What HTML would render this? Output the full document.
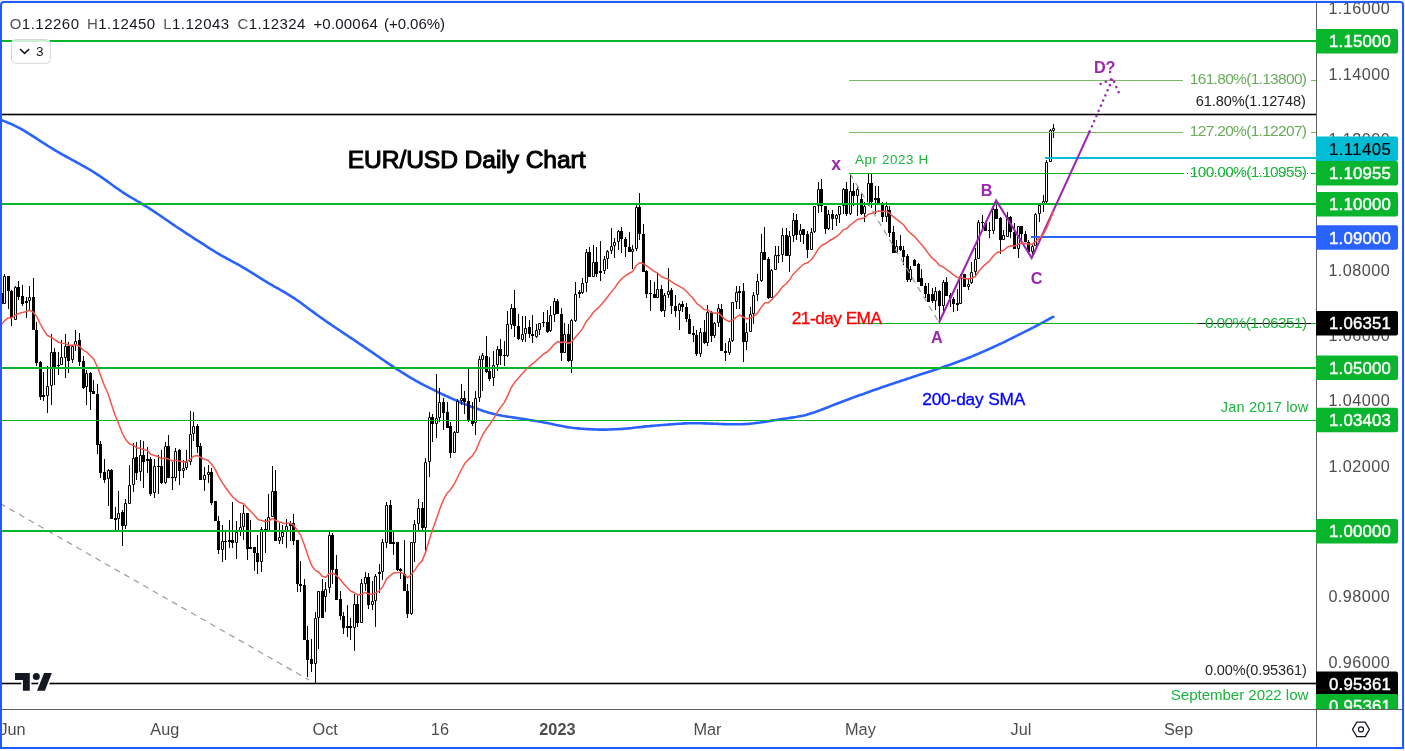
<!DOCTYPE html>
<html><head><meta charset="utf-8"><title>EUR/USD Daily Chart</title>
<style>
html,body{margin:0;padding:0;background:#fff;width:1405px;height:751px;overflow:hidden;}
#bgt{position:absolute;left:0;top:0;width:1405px;height:6px;background:#eceef2;}
#bgr{position:absolute;left:1400px;top:0;width:5px;height:751px;background:#f2f1ec;}
#frame{position:absolute;left:0;top:1px;width:1404px;height:748px;box-sizing:border-box;border:2px solid #1f5bff;border-radius:4px 4px 0 0;background:#fff;}
svg{position:absolute;left:0;top:0;will-change:transform;}
text{font-family:'Liberation Sans', sans-serif;}
</style></head><body>
<div id="bgt"></div><div id="bgr"></div><div id="frame"></div>
<svg width="1405" height="751" viewBox="0 0 1405 751"><defs><clipPath id="pc"><rect x="2" y="3" width="1314" height="706"/></clipPath></defs><g clip-path="url(#pc)"><path d="M0.0 119.5 L2.0 120.3 L4.0 121.1 L6.0 121.9 L8.0 122.7 L10.0 123.5 L12.0 124.4 L14.0 125.3 L16.0 126.3 L18.0 127.3 L20.0 128.4 L22.0 129.5 L24.0 130.6 L26.0 131.8 L28.0 133.1 L30.0 134.3 L32.0 135.6 L34.0 136.9 L36.0 138.2 L38.0 139.5 L40.0 140.9 L42.0 142.2 L44.0 143.4 L46.0 144.7 L48.0 146.0 L50.0 147.2 L52.0 148.4 L54.0 149.6 L56.0 150.8 L58.0 152.0 L60.0 153.1 L62.0 154.3 L64.0 155.4 L66.0 156.5 L68.0 157.6 L70.0 158.7 L72.0 159.8 L74.0 160.9 L76.0 162.0 L78.0 163.1 L80.0 164.2 L82.0 165.3 L84.0 166.4 L86.0 167.5 L88.0 168.7 L90.0 169.8 L92.0 171.0 L94.0 172.3 L96.0 173.6 L98.0 174.9 L100.0 176.2 L102.0 177.6 L104.0 179.0 L106.0 180.4 L108.0 181.9 L110.0 183.3 L112.0 184.8 L114.0 186.2 L116.0 187.6 L118.0 189.0 L120.0 190.4 L122.0 191.8 L124.0 193.1 L126.0 194.4 L128.0 195.6 L130.0 196.8 L132.0 198.0 L134.0 199.2 L136.0 200.3 L138.0 201.5 L140.0 202.7 L142.0 203.8 L144.0 205.1 L146.0 206.3 L148.0 207.5 L150.0 208.8 L152.0 210.1 L154.0 211.5 L156.0 212.8 L158.0 214.2 L160.0 215.5 L162.0 216.9 L164.0 218.3 L166.0 219.7 L168.0 221.0 L170.0 222.4 L172.0 223.8 L174.0 225.1 L176.0 226.5 L178.0 227.8 L180.0 229.1 L182.0 230.4 L184.0 231.8 L186.0 233.1 L188.0 234.4 L190.0 235.7 L192.0 237.0 L194.0 238.3 L196.0 239.6 L198.0 240.9 L200.0 242.1 L202.0 243.4 L204.0 244.7 L206.0 246.0 L208.0 247.3 L210.0 248.6 L212.0 249.8 L214.0 251.0 L216.0 252.3 L218.0 253.5 L220.0 254.6 L222.0 255.8 L224.0 256.9 L226.0 258.0 L228.0 259.1 L230.0 260.2 L232.0 261.3 L234.0 262.4 L236.0 263.4 L238.0 264.5 L240.0 265.7 L242.0 266.8 L244.0 268.0 L246.0 269.1 L248.0 270.4 L250.0 271.6 L252.0 272.8 L254.0 274.1 L256.0 275.3 L258.0 276.6 L260.0 277.9 L262.0 279.1 L264.0 280.4 L266.0 281.6 L268.0 282.8 L270.0 284.0 L272.0 285.1 L274.0 286.3 L276.0 287.4 L278.0 288.5 L280.0 289.7 L282.0 290.8 L284.0 291.9 L286.0 293.1 L288.0 294.3 L290.0 295.6 L292.0 296.8 L294.0 298.1 L296.0 299.5 L298.0 300.9 L300.0 302.3 L302.0 303.7 L304.0 305.2 L306.0 306.7 L308.0 308.2 L310.0 309.7 L312.0 311.1 L314.0 312.6 L316.0 314.1 L318.0 315.5 L320.0 317.0 L322.0 318.4 L324.0 319.8 L326.0 321.2 L328.0 322.6 L330.0 323.9 L332.0 325.3 L334.0 326.7 L336.0 328.0 L338.0 329.3 L340.0 330.7 L342.0 332.0 L344.0 333.4 L346.0 334.7 L348.0 336.0 L350.0 337.4 L352.0 338.7 L354.0 340.0 L356.0 341.4 L358.0 342.7 L360.0 344.1 L362.0 345.4 L364.0 346.8 L366.0 348.1 L368.0 349.5 L370.0 350.9 L372.0 352.2 L374.0 353.6 L376.0 355.0 L378.0 356.4 L380.0 357.8 L382.0 359.1 L384.0 360.5 L386.0 361.9 L388.0 363.2 L390.0 364.6 L392.0 365.9 L394.0 367.3 L396.0 368.6 L398.0 369.9 L400.0 371.1 L402.0 372.4 L404.0 373.6 L406.0 374.9 L408.0 376.1 L410.0 377.3 L412.0 378.5 L414.0 379.6 L416.0 380.8 L418.0 381.9 L420.0 383.0 L422.0 384.1 L424.0 385.2 L426.0 386.2 L428.0 387.2 L430.0 388.2 L432.0 389.2 L434.0 390.2 L436.0 391.2 L438.0 392.2 L440.0 393.1 L442.0 394.1 L444.0 395.0 L446.0 395.9 L448.0 396.8 L450.0 397.7 L452.0 398.6 L454.0 399.5 L456.0 400.4 L458.0 401.3 L460.0 402.2 L462.0 403.0 L464.0 403.8 L466.0 404.6 L468.0 405.4 L470.0 406.2 L472.0 407.0 L474.0 407.7 L476.0 408.4 L478.0 409.1 L480.0 409.8 L482.0 410.5 L484.0 411.2 L486.0 411.8 L488.0 412.4 L490.0 413.0 L492.0 413.5 L494.0 414.0 L496.0 414.5 L498.0 414.9 L500.0 415.3 L502.0 415.7 L504.0 416.0 L506.0 416.4 L508.0 416.7 L510.0 417.0 L512.0 417.3 L514.0 417.6 L516.0 417.9 L518.0 418.2 L520.0 418.5 L522.0 418.8 L524.0 419.1 L526.0 419.4 L528.0 419.7 L530.0 420.1 L532.0 420.4 L534.0 420.7 L536.0 421.0 L538.0 421.3 L540.0 421.7 L542.0 422.0 L544.0 422.4 L546.0 422.8 L548.0 423.2 L550.0 423.6 L552.0 424.0 L554.0 424.4 L556.0 424.9 L558.0 425.3 L560.0 425.7 L562.0 426.1 L564.0 426.5 L566.0 426.9 L568.0 427.2 L570.0 427.5 L572.0 427.8 L574.0 428.0 L576.0 428.2 L578.0 428.4 L580.0 428.6 L582.0 428.7 L584.0 428.9 L586.0 429.0 L588.0 429.1 L590.0 429.3 L592.0 429.4 L594.0 429.4 L596.0 429.5 L598.0 429.6 L600.0 429.6 L602.0 429.6 L604.0 429.6 L606.0 429.6 L608.0 429.5 L610.0 429.5 L612.0 429.4 L614.0 429.3 L616.0 429.2 L618.0 429.1 L620.0 429.0 L622.0 428.9 L624.0 428.7 L626.0 428.5 L628.0 428.4 L630.0 428.2 L632.0 428.0 L634.0 427.7 L636.0 427.5 L638.0 427.3 L640.0 427.1 L642.0 426.9 L644.0 426.6 L646.0 426.4 L648.0 426.2 L650.0 426.1 L652.0 425.9 L654.0 425.7 L656.0 425.5 L658.0 425.4 L660.0 425.2 L662.0 425.0 L664.0 424.9 L666.0 424.7 L668.0 424.6 L670.0 424.4 L672.0 424.3 L674.0 424.1 L676.0 424.0 L678.0 423.8 L680.0 423.7 L682.0 423.6 L684.0 423.4 L686.0 423.4 L688.0 423.3 L690.0 423.2 L692.0 423.2 L694.0 423.2 L696.0 423.2 L698.0 423.2 L700.0 423.3 L702.0 423.3 L704.0 423.4 L706.0 423.4 L708.0 423.5 L710.0 423.6 L712.0 423.6 L714.0 423.7 L716.0 423.8 L718.0 423.9 L720.0 424.0 L722.0 424.0 L724.0 424.1 L726.0 424.2 L728.0 424.2 L730.0 424.3 L732.0 424.3 L734.0 424.3 L736.0 424.3 L738.0 424.3 L740.0 424.3 L742.0 424.2 L744.0 424.1 L746.0 424.0 L748.0 423.9 L750.0 423.7 L752.0 423.5 L754.0 423.3 L756.0 423.0 L758.0 422.7 L760.0 422.5 L762.0 422.2 L764.0 421.9 L766.0 421.6 L768.0 421.3 L770.0 420.9 L772.0 420.6 L774.0 420.3 L776.0 420.0 L778.0 419.7 L780.0 419.4 L782.0 419.1 L784.0 418.8 L786.0 418.5 L788.0 418.2 L790.0 417.9 L792.0 417.6 L794.0 417.3 L796.0 417.0 L798.0 416.6 L800.0 416.2 L802.0 415.8 L804.0 415.4 L806.0 414.9 L808.0 414.3 L810.0 413.7 L812.0 413.1 L814.0 412.5 L816.0 411.8 L818.0 411.0 L820.0 410.3 L822.0 409.5 L824.0 408.7 L826.0 408.0 L828.0 407.2 L830.0 406.4 L832.0 405.6 L834.0 404.8 L836.0 404.0 L838.0 403.2 L840.0 402.5 L842.0 401.7 L844.0 401.0 L846.0 400.2 L848.0 399.5 L850.0 398.7 L852.0 398.0 L854.0 397.3 L856.0 396.5 L858.0 395.8 L860.0 395.1 L862.0 394.4 L864.0 393.7 L866.0 392.9 L868.0 392.2 L870.0 391.5 L872.0 390.8 L874.0 390.1 L876.0 389.4 L878.0 388.7 L880.0 388.0 L882.0 387.3 L884.0 386.6 L886.0 385.9 L888.0 385.2 L890.0 384.6 L892.0 383.9 L894.0 383.2 L896.0 382.5 L898.0 381.9 L900.0 381.2 L902.0 380.5 L904.0 379.9 L906.0 379.2 L908.0 378.5 L910.0 377.9 L912.0 377.2 L914.0 376.5 L916.0 375.9 L918.0 375.3 L920.0 374.6 L922.0 374.0 L924.0 373.3 L926.0 372.7 L928.0 372.1 L930.0 371.4 L932.0 370.8 L934.0 370.1 L936.0 369.5 L938.0 368.8 L940.0 368.2 L942.0 367.5 L944.0 366.8 L946.0 366.1 L948.0 365.4 L950.0 364.7 L952.0 364.0 L954.0 363.2 L956.0 362.5 L958.0 361.8 L960.0 361.0 L962.0 360.3 L964.0 359.5 L966.0 358.8 L968.0 358.0 L970.0 357.2 L972.0 356.4 L974.0 355.5 L976.0 354.7 L978.0 353.9 L980.0 353.0 L982.0 352.1 L984.0 351.3 L986.0 350.4 L988.0 349.5 L990.0 348.6 L992.0 347.7 L994.0 346.8 L996.0 345.9 L998.0 344.9 L1000.0 344.0 L1002.0 343.1 L1004.0 342.1 L1006.0 341.2 L1008.0 340.2 L1010.0 339.2 L1012.0 338.2 L1014.0 337.2 L1016.0 336.2 L1018.0 335.2 L1020.0 334.2 L1022.0 333.2 L1024.0 332.2 L1026.0 331.2 L1028.0 330.2 L1030.0 329.2 L1032.0 328.1 L1034.0 327.1 L1036.0 326.0 L1038.0 325.0 L1040.0 323.9 L1042.0 322.8 L1044.0 321.8 L1046.0 320.7 L1048.0 319.6 L1050.0 318.5 L1052.0 317.4 L1053.3 316.9" stroke="#2962ff" stroke-width="2.6" fill="none" stroke-linejoin="round" stroke-linecap="round"/><path d="M1 290h1v3h-1zM1 304h1v2h-1zM8 291h1v18h-1zM11 290h1v1h-1zM11 318h1v8h-1zM18 281h1v6h-1zM18 297h1v3h-1zM22 285h1v11h-1zM22 304h1v2h-1zM26 297h1v4h-1zM26 303h1v15h-1zM33 278h1v19h-1zM36 322h1v8h-1zM36 363h1v3h-1zM40 361h1v1h-1zM40 397h1v3h-1zM43 372h1v23h-1zM43 397h1v4h-1zM54 348h1v4h-1zM54 367h1v18h-1zM58 352h1v13h-1zM58 366h1v9h-1zM68 342h1v4h-1zM68 361h1v12h-1zM79 333h1v7h-1zM79 362h1v4h-1zM83 356h1v5h-1zM83 388h1v1h-1zM90 372h1v1h-1zM90 392h1v18h-1zM93 380h1v11h-1zM97 384h1v10h-1zM97 445h1v9h-1zM100 441h1v3h-1zM100 473h1v5h-1zM104 459h1v13h-1zM104 480h1v3h-1zM111 469h1v1h-1zM115 507h1v11h-1zM115 520h1v10h-1zM122 510h1v2h-1zM122 526h1v20h-1zM136 442h1v15h-1zM136 473h1v7h-1zM143 441h1v14h-1zM143 462h1v26h-1zM147 447h1v12h-1zM147 461h1v12h-1zM150 457h1v2h-1zM150 494h1v2h-1zM158 455h1v11h-1zM158 467h1v27h-1zM161 450h1v16h-1zM161 483h1v1h-1zM168 435h1v11h-1zM172 462h1v15h-1zM172 478h1v12h-1zM179 449h1v1h-1zM179 471h1v14h-1zM197 424h1v2h-1zM197 447h1v6h-1zM200 443h1v3h-1zM211 468h1v4h-1zM211 503h1v2h-1zM218 516h1v5h-1zM218 550h1v4h-1zM225 531h1v10h-1zM225 542h1v18h-1zM229 520h1v20h-1zM229 542h1v6h-1zM232 502h1v38h-1zM232 543h1v5h-1zM247 549h1v11h-1zM250 520h1v27h-1zM254 553h1v18h-1zM257 535h1v18h-1zM257 562h1v12h-1zM265 519h1v10h-1zM265 532h1v21h-1zM275 470h1v21h-1zM290 521h1v3h-1zM290 526h1v15h-1zM293 514h1v9h-1zM293 541h1v4h-1zM297 584h1v8h-1zM300 561h1v23h-1zM300 586h1v6h-1zM304 579h1v6h-1zM307 626h1v14h-1zM307 660h1v17h-1zM311 639h1v20h-1zM311 664h1v8h-1zM322 579h1v12h-1zM332 533h1v2h-1zM332 570h1v14h-1zM336 555h1v14h-1zM340 591h1v8h-1zM340 616h1v4h-1zM343 612h1v4h-1zM343 628h1v6h-1zM347 605h1v21h-1zM347 628h1v9h-1zM350 618h1v8h-1zM350 628h1v12h-1zM357 594h1v10h-1zM357 623h1v4h-1zM368 573h1v4h-1zM368 605h1v4h-1zM379 564h1v8h-1zM379 574h1v19h-1zM390 500h1v5h-1zM393 532h1v10h-1zM393 544h1v11h-1zM397 570h1v1h-1zM400 568h1v1h-1zM400 571h1v8h-1zM404 540h1v34h-1zM407 584h1v7h-1zM407 614h1v4h-1zM422 502h1v6h-1zM422 528h1v4h-1zM432 414h1v3h-1zM432 424h1v18h-1zM443 398h1v4h-1zM443 413h1v17h-1zM447 402h1v10h-1zM450 422h1v4h-1zM450 453h1v5h-1zM464 391h1v7h-1zM464 402h1v12h-1zM468 368h1v33h-1zM468 420h1v2h-1zM472 402h1v18h-1zM472 424h1v2h-1zM486 336h1v20h-1zM486 372h1v1h-1zM489 357h1v14h-1zM489 379h1v2h-1zM500 339h1v10h-1zM500 356h1v9h-1zM504 341h1v14h-1zM504 356h1v10h-1zM514 290h1v18h-1zM514 326h1v11h-1zM518 314h1v12h-1zM518 339h1v1h-1zM529 320h1v7h-1zM529 334h1v4h-1zM532 315h1v19h-1zM532 336h1v7h-1zM543 312h1v10h-1zM543 323h1v4h-1zM547 310h1v12h-1zM547 332h1v1h-1zM557 299h1v2h-1zM561 308h1v6h-1zM561 353h1v8h-1zM568 324h1v10h-1zM568 361h1v1h-1zM579 290h1v2h-1zM579 294h1v4h-1zM589 247h1v5h-1zM596 247h1v15h-1zM596 274h1v3h-1zM600 241h1v30h-1zM600 273h1v8h-1zM621 227h1v4h-1zM621 239h1v14h-1zM625 237h1v2h-1zM625 247h1v10h-1zM629 232h1v15h-1zM639 193h1v14h-1zM639 234h1v6h-1zM643 224h1v10h-1zM646 270h1v1h-1zM646 294h1v4h-1zM650 280h1v13h-1zM650 294h1v17h-1zM654 282h1v12h-1zM661 285h1v4h-1zM661 311h1v1h-1zM671 288h1v2h-1zM671 306h1v8h-1zM675 295h1v11h-1zM675 311h1v6h-1zM682 301h1v3h-1zM682 307h1v5h-1zM686 303h1v4h-1zM686 319h1v3h-1zM689 314h1v5h-1zM693 326h1v7h-1zM693 335h1v7h-1zM696 330h1v5h-1zM696 354h1v2h-1zM704 320h1v12h-1zM704 343h1v1h-1zM711 311h1v1h-1zM711 336h1v6h-1zM721 304h1v5h-1zM725 343h1v8h-1zM725 353h1v8h-1zM739 286h1v5h-1zM739 293h1v16h-1zM743 283h1v8h-1zM743 342h1v20h-1zM764 227h1v25h-1zM768 257h1v2h-1zM768 298h1v1h-1zM778 246h1v9h-1zM778 256h1v7h-1zM786 228h1v7h-1zM796 214h1v6h-1zM796 235h1v5h-1zM803 235h1v9h-1zM807 231h1v3h-1zM807 250h1v8h-1zM821 179h1v10h-1zM821 206h1v6h-1zM825 229h1v5h-1zM832 210h1v4h-1zM832 219h1v11h-1zM846 182h1v7h-1zM846 214h1v2h-1zM853 183h1v8h-1zM853 196h1v10h-1zM861 194h1v5h-1zM861 214h1v1h-1zM871 174h1v9h-1zM871 202h1v6h-1zM875 186h1v12h-1zM875 200h1v14h-1zM878 186h1v12h-1zM882 202h1v1h-1zM882 217h1v5h-1zM889 206h1v4h-1zM889 233h1v4h-1zM893 226h1v6h-1zM900 235h1v11h-1zM900 250h1v1h-1zM903 246h1v4h-1zM903 257h1v8h-1zM907 254h1v2h-1zM907 280h1v2h-1zM914 259h1v1h-1zM918 263h1v1h-1zM921 269h1v9h-1zM925 283h1v3h-1zM925 294h1v4h-1zM928 283h1v11h-1zM932 288h1v6h-1zM932 301h1v2h-1zM939 290h1v1h-1zM939 306h1v17h-1zM946 277h1v5h-1zM950 293h1v2h-1zM950 298h1v9h-1zM953 297h1v2h-1zM953 304h1v8h-1zM957 289h1v14h-1zM957 305h1v6h-1zM982 215h1v7h-1zM982 223h1v6h-1zM985 222h1v1h-1zM989 222h1v8h-1zM989 231h1v7h-1zM996 200h1v9h-1zM1000 217h1v1h-1zM1000 240h1v14h-1zM1010 216h1v1h-1zM1010 232h1v6h-1zM1014 223h1v9h-1zM1021 234h1v6h-1zM1025 231h1v3h-1zM1028 240h1v2h-1zM1028 252h1v2h-1zM4 274h1v2h-1zM15 286h1v1h-1zM29 286h1v11h-1zM29 301h1v10h-1zM47 366h1v20h-1zM47 396h1v17h-1zM51 334h1v18h-1zM51 386h1v19h-1zM61 340h1v17h-1zM65 334h1v12h-1zM65 358h1v20h-1zM72 345h1v1h-1zM72 360h1v3h-1zM75 330h1v11h-1zM75 345h1v6h-1zM86 370h1v3h-1zM86 387h1v18h-1zM108 469h1v1h-1zM108 479h1v27h-1zM118 491h1v22h-1zM118 519h1v12h-1zM125 499h1v4h-1zM125 526h1v3h-1zM129 465h1v20h-1zM133 443h1v15h-1zM133 485h1v7h-1zM140 440h1v15h-1zM140 472h1v9h-1zM154 459h1v7h-1zM154 493h1v5h-1zM165 442h1v4h-1zM165 483h1v1h-1zM175 448h1v3h-1zM175 478h1v3h-1zM183 460h1v8h-1zM183 471h1v7h-1zM186 450h1v12h-1zM186 468h1v2h-1zM190 411h1v23h-1zM190 462h1v3h-1zM193 412h1v14h-1zM193 434h1v7h-1zM204 467h1v8h-1zM204 480h1v11h-1zM208 465h1v7h-1zM208 475h1v8h-1zM222 525h1v16h-1zM222 550h1v12h-1zM236 521h1v11h-1zM236 543h1v16h-1zM240 513h1v14h-1zM240 531h1v5h-1zM243 505h1v8h-1zM243 527h1v13h-1zM261 527h1v2h-1zM261 562h1v10h-1zM268 494h1v23h-1zM272 466h1v25h-1zM279 523h1v14h-1zM279 541h1v3h-1zM282 525h1v7h-1zM282 537h1v7h-1zM286 519h1v7h-1zM286 532h1v16h-1zM315 612h1v6h-1zM315 664h1v20h-1zM318 618h1v31h-1zM325 582h1v7h-1zM325 597h1v15h-1zM329 531h1v4h-1zM329 588h1v5h-1zM354 594h1v10h-1zM354 628h1v23h-1zM361 579h1v4h-1zM365 572h1v5h-1zM365 584h1v7h-1zM372 581h1v20h-1zM372 605h1v5h-1zM375 574h1v2h-1zM375 601h1v26h-1zM382 539h1v3h-1zM382 572h1v8h-1zM386 502h1v3h-1zM386 543h1v5h-1zM411 614h1v1h-1zM414 520h1v4h-1zM414 543h1v19h-1zM418 499h1v9h-1zM418 524h1v8h-1zM425 458h1v4h-1zM425 528h1v24h-1zM429 412h1v5h-1zM429 462h1v15h-1zM436 374h1v44h-1zM436 424h1v14h-1zM439 388h1v14h-1zM439 418h1v4h-1zM454 431h1v1h-1zM457 399h1v2h-1zM461 384h1v14h-1zM461 401h1v4h-1zM475 391h1v7h-1zM475 423h1v12h-1zM479 356h1v3h-1zM479 398h1v4h-1zM482 353h1v2h-1zM482 360h1v31h-1zM493 351h1v14h-1zM493 378h1v8h-1zM497 346h1v3h-1zM497 365h1v6h-1zM507 311h1v13h-1zM507 356h1v1h-1zM511 304h1v4h-1zM511 325h1v4h-1zM522 316h1v18h-1zM522 340h1v2h-1zM525 316h1v12h-1zM525 334h1v8h-1zM536 324h1v6h-1zM536 337h1v1h-1zM539 330h1v5h-1zM550 306h1v9h-1zM550 331h1v1h-1zM554 298h1v3h-1zM554 315h1v7h-1zM564 323h1v11h-1zM571 319h1v1h-1zM571 361h1v12h-1zM575 282h1v12h-1zM575 321h1v1h-1zM582 278h1v5h-1zM582 293h1v1h-1zM586 249h1v3h-1zM586 283h1v9h-1zM593 245h1v17h-1zM604 256h1v3h-1zM604 271h1v3h-1zM607 250h1v1h-1zM607 259h1v10h-1zM611 228h1v18h-1zM611 251h1v3h-1zM614 238h1v4h-1zM614 246h1v12h-1zM618 230h1v1h-1zM618 242h1v8h-1zM632 245h1v4h-1zM632 252h1v17h-1zM636 205h1v2h-1zM636 249h1v2h-1zM657 273h1v16h-1zM664 293h1v2h-1zM664 311h1v6h-1zM668 268h1v23h-1zM668 295h1v3h-1zM679 303h1v1h-1zM679 311h1v19h-1zM700 328h1v4h-1zM700 354h1v3h-1zM707 305h1v7h-1zM707 343h1v3h-1zM714 322h1v1h-1zM714 336h1v2h-1zM718 304h1v4h-1zM718 323h1v4h-1zM729 338h1v3h-1zM729 353h1v2h-1zM732 341h1v1h-1zM736 286h1v6h-1zM736 302h1v7h-1zM746 323h1v9h-1zM746 342h1v8h-1zM750 307h1v7h-1zM753 292h1v3h-1zM753 314h1v10h-1zM757 274h1v7h-1zM757 295h1v6h-1zM761 234h1v18h-1zM761 281h1v1h-1zM771 269h1v1h-1zM775 246h1v9h-1zM782 228h1v7h-1zM782 255h1v7h-1zM789 231h1v5h-1zM789 256h1v16h-1zM793 213h1v7h-1zM793 236h1v6h-1zM800 224h1v6h-1zM800 235h1v7h-1zM811 228h1v4h-1zM814 232h1v1h-1zM818 182h1v7h-1zM818 206h1v7h-1zM828 210h1v4h-1zM828 229h1v1h-1zM836 214h1v1h-1zM836 219h1v7h-1zM839 215h1v8h-1zM843 188h1v1h-1zM843 206h1v8h-1zM850 174h1v17h-1zM850 214h1v1h-1zM857 187h1v2h-1zM857 196h1v20h-1zM864 202h1v4h-1zM864 214h1v8h-1zM868 174h1v9h-1zM868 205h1v1h-1zM886 202h1v4h-1zM886 217h1v5h-1zM896 240h1v6h-1zM910 266h1v3h-1zM910 280h1v2h-1zM935 287h1v4h-1zM935 301h1v9h-1zM943 280h1v2h-1zM943 306h1v6h-1zM960 274h1v2h-1zM968 278h1v6h-1zM968 287h1v3h-1zM971 262h1v10h-1zM971 283h1v1h-1zM975 248h1v11h-1zM975 272h1v5h-1zM978 220h1v2h-1zM993 204h1v5h-1zM993 231h1v3h-1zM1003 230h1v5h-1zM1007 212h1v5h-1zM1018 249h1v9h-1zM1032 245h1v1h-1zM1032 252h1v6h-1zM1035 213h1v1h-1zM1039 204h1v1h-1zM1039 214h1v8h-1zM1043 195h1v6h-1zM1043 205h1v7h-1zM1046 160h1v2h-1zM1046 202h1v1h-1zM1050 129h1v1h-1zM1053 124h1v4h-1zM1053 131h1v7h-1zM0 293h3v11h-3zM7 276h3v15h-3zM10 291h3v27h-3zM17 287h3v10h-3zM21 296h3v8h-3zM25 301h3v2h-3zM32 297h3v33h-3zM35 330h3v33h-3zM39 362h3v35h-3zM42 395h3v2h-3zM53 352h3v15h-3zM57 365h3v1h-3zM67 346h3v15h-3zM78 340h3v22h-3zM82 361h3v27h-3zM89 373h3v19h-3zM92 391h3v3h-3zM96 394h3v51h-3zM99 444h3v29h-3zM103 472h3v8h-3zM110 470h3v49h-3zM114 518h3v2h-3zM121 512h3v14h-3zM135 457h3v16h-3zM142 455h3v7h-3zM146 459h3v2h-3zM149 459h3v35h-3zM157 466h3v1h-3zM160 466h3v17h-3zM167 446h3v32h-3zM171 477h3v1h-3zM178 450h3v21h-3zM196 426h3v21h-3zM199 446h3v34h-3zM210 472h3v31h-3zM214 501h3v20h-3zM217 521h3v29h-3zM224 541h3v1h-3zM228 540h3v2h-3zM231 540h3v3h-3zM246 513h3v36h-3zM249 547h3v2h-3zM253 547h3v6h-3zM256 553h3v9h-3zM264 529h3v3h-3zM274 491h3v50h-3zM289 524h3v2h-3zM292 523h3v18h-3zM296 540h3v44h-3zM299 584h3v2h-3zM303 585h3v55h-3zM306 640h3v20h-3zM310 659h3v5h-3zM321 591h3v27h-3zM331 535h3v35h-3zM335 569h3v31h-3zM339 599h3v17h-3zM342 616h3v12h-3zM346 626h3v2h-3zM349 626h3v2h-3zM356 604h3v19h-3zM367 577h3v28h-3zM378 572h3v2h-3zM389 505h3v39h-3zM392 542h3v2h-3zM396 542h3v28h-3zM399 569h3v2h-3zM403 574h3v17h-3zM406 591h3v23h-3zM421 508h3v20h-3zM431 417h3v7h-3zM442 402h3v11h-3zM446 412h3v16h-3zM449 426h3v27h-3zM463 398h3v4h-3zM467 401h3v19h-3zM471 420h3v4h-3zM485 356h3v16h-3zM488 371h3v8h-3zM499 349h3v7h-3zM503 355h3v1h-3zM513 308h3v18h-3zM517 326h3v13h-3zM528 327h3v7h-3zM531 334h3v2h-3zM542 322h3v1h-3zM546 322h3v10h-3zM556 301h3v13h-3zM560 314h3v39h-3zM567 334h3v27h-3zM578 292h3v2h-3zM588 252h3v25h-3zM595 262h3v12h-3zM599 271h3v2h-3zM620 231h3v8h-3zM624 239h3v8h-3zM628 247h3v5h-3zM638 207h3v27h-3zM642 234h3v38h-3zM645 271h3v23h-3zM649 293h3v1h-3zM653 294h3v4h-3zM660 289h3v22h-3zM670 290h3v16h-3zM674 306h3v5h-3zM681 304h3v3h-3zM685 307h3v12h-3zM688 319h3v15h-3zM692 333h3v2h-3zM695 335h3v19h-3zM703 332h3v11h-3zM710 312h3v24h-3zM720 309h3v42h-3zM724 351h3v2h-3zM738 291h3v2h-3zM742 291h3v51h-3zM763 252h3v8h-3zM767 259h3v39h-3zM777 255h3v1h-3zM785 235h3v21h-3zM795 220h3v15h-3zM802 229h3v6h-3zM806 234h3v16h-3zM820 189h3v17h-3zM824 206h3v23h-3zM831 214h3v5h-3zM845 189h3v25h-3zM852 191h3v5h-3zM860 199h3v15h-3zM870 183h3v19h-3zM874 198h3v2h-3zM877 198h3v5h-3zM881 203h3v14h-3zM888 210h3v23h-3zM892 232h3v21h-3zM899 246h3v4h-3zM902 250h3v7h-3zM906 256h3v24h-3zM913 260h3v6h-3zM917 264h3v18h-3zM920 278h3v8h-3zM924 286h3v8h-3zM927 294h3v8h-3zM931 294h3v7h-3zM938 291h3v15h-3zM945 282h3v14h-3zM949 295h3v3h-3zM952 299h3v5h-3zM956 303h3v2h-3zM963 274h3v13h-3zM981 222h3v1h-3zM984 223h3v8h-3zM988 230h3v1h-3zM995 209h3v10h-3zM999 218h3v22h-3zM1009 217h3v15h-3zM1013 232h3v17h-3zM1020 226h3v8h-3zM1024 234h3v8h-3zM1027 242h3v10h-3z" fill="#000"/><path d="M3.5 276.5h2v27h-2zM14.5 287.5h2v32h-2zM28.5 297.5h2v3h-2zM46.5 386.5h2v9h-2zM50.5 352.5h2v33h-2zM60.5 357.5h2v7h-2zM64.5 346.5h2v11h-2zM71.5 346.5h2v13h-2zM74.5 341.5h2v3h-2zM85.5 373.5h2v13h-2zM107.5 470.5h2v8h-2zM117.5 513.5h2v5h-2zM124.5 503.5h2v22h-2zM128.5 485.5h2v18h-2zM132.5 458.5h2v26h-2zM139.5 455.5h2v16h-2zM153.5 466.5h2v26h-2zM164.5 446.5h2v36h-2zM174.5 451.5h2v26h-2zM182.5 468.5h2v2h-2zM185.5 462.5h2v5h-2zM189.5 434.5h2v27h-2zM192.5 426.5h2v7h-2zM203.5 475.5h2v4h-2zM207.5 472.5h2v2h-2zM221.5 541.5h2v8h-2zM235.5 532.5h2v10h-2zM239.5 527.5h2v3h-2zM242.5 513.5h2v13h-2zM260.5 529.5h2v32h-2zM267.5 517.5h2v14h-2zM271.5 491.5h2v25h-2zM278.5 537.5h2v3h-2zM281.5 532.5h2v4h-2zM285.5 526.5h2v5h-2zM314.5 618.5h2v45h-2zM317.5 591.5h2v26h-2zM324.5 589.5h2v7h-2zM328.5 535.5h2v52h-2zM353.5 604.5h2v23h-2zM360.5 583.5h2v39h-2zM364.5 577.5h2v6h-2zM371.5 601.5h2v3h-2zM374.5 576.5h2v24h-2zM381.5 542.5h2v29h-2zM385.5 505.5h2v37h-2zM410.5 542.5h2v71h-2zM413.5 524.5h2v18h-2zM417.5 508.5h2v15h-2zM424.5 462.5h2v65h-2zM428.5 417.5h2v44h-2zM435.5 418.5h2v5h-2zM438.5 402.5h2v15h-2zM453.5 432.5h2v20h-2zM456.5 401.5h2v31h-2zM460.5 398.5h2v2h-2zM474.5 398.5h2v24h-2zM478.5 359.5h2v38h-2zM481.5 355.5h2v4h-2zM492.5 365.5h2v12h-2zM496.5 349.5h2v15h-2zM506.5 324.5h2v31h-2zM510.5 308.5h2v16h-2zM521.5 334.5h2v5h-2zM524.5 328.5h2v5h-2zM535.5 330.5h2v6h-2zM538.5 323.5h2v6h-2zM549.5 315.5h2v15h-2zM553.5 301.5h2v13h-2zM563.5 334.5h2v18h-2zM570.5 320.5h2v40h-2zM574.5 294.5h2v26h-2zM581.5 283.5h2v9h-2zM585.5 252.5h2v30h-2zM592.5 262.5h2v14h-2zM603.5 259.5h2v11h-2zM606.5 251.5h2v7h-2zM610.5 246.5h2v4h-2zM613.5 242.5h2v3h-2zM617.5 231.5h2v10h-2zM631.5 249.5h2v2h-2zM635.5 207.5h2v41h-2zM656.5 289.5h2v8h-2zM663.5 295.5h2v15h-2zM667.5 291.5h2v3h-2zM678.5 304.5h2v6h-2zM699.5 332.5h2v21h-2zM706.5 312.5h2v30h-2zM713.5 323.5h2v12h-2zM717.5 308.5h2v14h-2zM728.5 341.5h2v11h-2zM731.5 302.5h2v38h-2zM735.5 292.5h2v9h-2zM745.5 332.5h2v9h-2zM749.5 314.5h2v17h-2zM752.5 295.5h2v18h-2zM756.5 281.5h2v13h-2zM760.5 252.5h2v28h-2zM770.5 270.5h2v27h-2zM774.5 255.5h2v14h-2zM781.5 235.5h2v19h-2zM788.5 236.5h2v19h-2zM792.5 220.5h2v15h-2zM799.5 230.5h2v4h-2zM810.5 232.5h2v17h-2zM813.5 206.5h2v25h-2zM817.5 189.5h2v16h-2zM827.5 214.5h2v14h-2zM835.5 215.5h2v3h-2zM838.5 206.5h2v8h-2zM842.5 189.5h2v16h-2zM849.5 191.5h2v22h-2zM856.5 189.5h2v6h-2zM863.5 206.5h2v7h-2zM867.5 183.5h2v21h-2zM885.5 206.5h2v10h-2zM895.5 246.5h2v6h-2zM909.5 269.5h2v10h-2zM934.5 291.5h2v9h-2zM942.5 282.5h2v23h-2zM959.5 276.5h2v27h-2zM967.5 284.5h2v2h-2zM970.5 272.5h2v10h-2zM974.5 259.5h2v12h-2zM977.5 222.5h2v36h-2zM992.5 209.5h2v21h-2zM1002.5 235.5h2v4h-2zM1006.5 217.5h2v19h-2zM1017.5 226.5h2v22h-2zM1031.5 246.5h2v5h-2zM1034.5 214.5h2v31h-2zM1038.5 205.5h2v8h-2zM1042.5 201.5h2v3h-2zM1045.5 162.5h2v39h-2zM1049.5 130.5h2v31h-2zM1052.5 128.5h2v2h-2z" fill="#fff" stroke="#000" stroke-width="1"/><path d="M0 503.4 L309 680" stroke="#9b9b9b" stroke-width="1.2" stroke-dasharray="6 5" fill="none"/><path d="M850 173.5 L939 322.5" stroke="#9b9b9b" stroke-width="1.2" stroke-dasharray="6 5" fill="none"/><rect x="2" y="40" width="1314" height="2" fill="#09b52d" /><rect x="849" y="80" width="334" height="1" fill="#7ab866" /><rect x="1311" y="80" width="5" height="1" fill="#7ab866" /><rect x="2" y="113.7" width="1314" height="1.6" fill="#000" /><rect x="849" y="132" width="334" height="1" fill="#7ab866" /><rect x="1311" y="132" width="5" height="1" fill="#7ab866" /><rect x="849" y="173" width="334" height="1" fill="#09b52d" /><path d="M1183 173.5 H1311" stroke="#2a8a3a" stroke-width="1" stroke-dasharray="1 3" fill="none"/><rect x="1311" y="173" width="5" height="1" fill="#09b52d" /><rect x="2" y="203" width="1314" height="2" fill="#09b52d" /><rect x="849" y="323" width="349" height="1" fill="#09b52d" /><rect x="1198" y="323" width="113" height="1" fill="#000" /><rect x="1311" y="323" width="5" height="1" fill="#09b52d" /><rect x="2" y="367" width="1314" height="2" fill="#09b52d" /><rect x="2" y="420" width="1314" height="1" fill="#09b52d" /><rect x="2" y="530" width="1314" height="2" fill="#09b52d" /><rect x="2" y="682.7" width="1314" height="1.6" fill="#000" /><rect x="1045" y="157" width="271" height="2" fill="#00bcd4" /><rect x="1031" y="236" width="285" height="2" fill="#2962ff" /><path d="M939 322.5 L996.2 200.4 L1031.7 258 L1089.7 131.4" stroke="#9c27b0" stroke-width="2.1" fill="none" stroke-linejoin="miter"/><path d="M1089.7 131.4 L1112.7 78.6" stroke="#9c27b0" stroke-width="2.5" stroke-dasharray="0.1 5.5" stroke-linecap="round" fill="none"/><path d="M1100.6 84 L1112.7 78.6 L1120 95.4" stroke="#9c27b0" stroke-width="2.5" stroke-dasharray="0.1 5.5" stroke-linecap="round" fill="none"/><path d="M1.1 325.0 L4.6 320.6 L8.2 317.9 L11.8 317.9 L15.3 315.1 L18.9 313.5 L22.5 312.6 L26.0 311.5 L29.6 310.2 L33.2 312.0 L36.7 316.6 L40.3 324.0 L43.9 330.4 L47.4 335.5 L51.0 337.0 L54.6 339.7 L58.1 342.0 L61.7 343.3 L65.3 343.6 L68.9 345.2 L72.4 345.2 L76.0 344.8 L79.6 346.3 L83.1 350.1 L86.7 352.1 L90.3 355.8 L93.8 359.2 L97.4 367.0 L101.0 376.6 L104.5 386.0 L108.1 393.7 L111.7 405.1 L115.2 415.5 L118.8 424.3 L122.4 433.5 L125.9 439.8 L129.5 443.9 L133.1 445.2 L136.7 447.7 L140.2 448.3 L143.8 449.6 L147.4 450.4 L150.9 454.4 L154.5 455.5 L158.1 456.4 L161.6 458.8 L165.2 457.6 L168.8 459.4 L172.3 461.0 L175.9 460.1 L179.5 461.1 L183.0 461.7 L186.6 461.7 L190.2 459.2 L193.7 456.2 L197.3 455.4 L200.9 457.6 L204.5 459.2 L208.0 460.3 L211.6 464.2 L215.2 469.4 L218.7 476.7 L222.3 482.6 L225.9 488.0 L229.4 492.7 L233.0 497.3 L236.6 500.4 L240.1 502.8 L243.7 503.8 L247.3 507.9 L250.8 511.5 L254.4 515.3 L258.0 519.6 L261.5 520.5 L265.1 521.5 L268.7 521.2 L272.3 518.4 L275.8 520.5 L279.4 522.0 L283.0 523.0 L286.5 523.3 L290.1 523.3 L293.7 525.0 L297.2 530.4 L300.8 535.4 L304.4 545.0 L307.9 555.4 L311.5 565.3 L315.1 570.1 L318.6 572.0 L322.2 576.2 L325.8 577.3 L329.3 573.5 L332.9 573.2 L336.5 575.6 L340.1 579.3 L343.6 583.8 L347.2 587.6 L350.8 591.3 L354.3 592.5 L357.9 595.2 L361.5 594.1 L365.0 592.6 L368.6 593.7 L372.2 594.4 L375.7 592.7 L379.3 590.9 L382.9 586.4 L386.4 579.1 L390.0 575.8 L393.6 572.9 L397.1 572.6 L400.7 572.4 L404.3 574.2 L407.9 577.7 L411.4 574.5 L415.0 569.9 L418.6 564.3 L422.1 560.9 L425.7 551.9 L429.3 539.7 L432.8 529.1 L436.4 519.0 L440.0 508.4 L443.5 499.7 L447.1 493.2 L450.7 489.5 L454.2 484.2 L457.8 476.7 L461.4 469.5 L464.9 463.3 L468.5 459.4 L472.1 456.1 L475.7 450.9 L479.2 442.5 L482.8 434.5 L486.4 428.8 L489.9 424.2 L493.5 418.9 L497.1 412.5 L500.6 407.4 L504.2 402.6 L507.8 395.4 L511.3 387.5 L514.9 381.9 L518.5 378.0 L522.0 374.0 L525.6 369.8 L529.2 366.5 L532.7 363.7 L536.3 360.6 L539.9 357.2 L543.5 354.0 L547.0 352.0 L550.6 348.6 L554.2 344.3 L557.7 341.5 L561.3 342.5 L564.9 341.7 L568.4 343.5 L572.0 341.3 L575.6 337.0 L579.1 332.9 L582.7 328.4 L586.3 321.4 L589.8 317.4 L593.4 312.3 L597.0 308.9 L600.5 305.5 L604.1 301.3 L607.7 296.7 L611.2 292.1 L614.8 287.6 L618.4 282.5 L622.0 278.5 L625.5 275.7 L629.1 273.5 L632.7 271.3 L636.2 265.5 L639.8 262.7 L643.4 263.5 L646.9 266.2 L650.5 268.7 L654.1 271.4 L657.6 273.0 L661.2 276.5 L664.8 278.1 L668.3 279.3 L671.9 281.8 L675.5 284.4 L679.0 286.2 L682.6 288.1 L686.2 291.0 L689.8 294.9 L693.3 298.5 L696.9 303.6 L700.5 306.1 L704.0 309.5 L707.6 309.8 L711.2 312.2 L714.7 313.2 L718.3 312.7 L721.9 316.2 L725.4 319.6 L729.0 321.6 L732.6 319.8 L736.1 317.3 L739.7 314.9 L743.3 317.4 L746.8 318.7 L750.4 318.2 L754.0 316.1 L757.6 312.9 L761.1 307.4 L764.7 303.0 L768.3 302.6 L771.8 299.6 L775.4 295.5 L779.0 291.9 L782.5 286.7 L786.1 284.0 L789.7 279.6 L793.2 274.2 L796.8 270.7 L800.4 267.0 L803.9 264.0 L807.5 262.8 L811.1 260.0 L814.6 255.1 L818.2 249.1 L821.8 245.2 L825.4 243.7 L828.9 241.0 L832.5 239.0 L836.1 236.8 L839.6 234.0 L843.2 229.9 L846.8 228.4 L850.3 225.0 L853.9 222.4 L857.5 219.3 L861.0 218.8 L864.6 217.6 L868.2 214.5 L871.7 213.3 L875.3 211.9 L878.9 211.1 L882.4 211.6 L886.0 211.2 L889.6 213.1 L893.2 216.7 L896.7 219.3 L900.3 222.1 L903.9 225.2 L907.4 230.2 L911.0 233.7 L914.6 236.6 L918.1 240.7 L921.7 244.8 L925.3 249.3 L928.8 254.1 L932.4 258.4 L936.0 261.3 L939.5 265.4 L943.1 267.0 L946.7 269.6 L950.2 272.2 L953.8 275.1 L957.4 277.6 L961.0 277.5 L964.5 278.4 L968.1 278.9 L971.7 278.2 L975.2 276.5 L978.8 271.5 L982.4 267.1 L985.9 263.9 L989.5 260.9 L993.1 256.2 L996.6 252.8 L1000.2 251.7 L1003.8 250.2 L1007.3 247.2 L1010.9 245.8 L1014.5 246.1 L1018.0 244.3 L1021.6 243.3 L1025.2 243.2 L1028.8 244.0 L1032.3 244.2 L1035.9 241.4 L1039.5 238.1 L1043.0 234.7 L1046.6 228.1 L1050.2 219.2 L1053.7 210.9" stroke="#f2564b" stroke-width="1.5" fill="none" stroke-linejoin="round"/><g fill="#131722" stroke="#fff" stroke-width="3.2" paint-order="stroke" stroke-linejoin="round"><path d="M15 673H29.8V690.8H22.9V679.9H15Z"/><circle cx="36.3" cy="676.4" r="3.5"/><path d="M44.1 673H51.8L44.9 690.8H37Z"/></g></g><text x="347.7" y="168" font-size="24.6" fill="#000" font-weight="normal" textLength="237.8" lengthAdjust="spacing" stroke="#000" stroke-width="1.05">EUR/USD Daily Chart</text><text x="831.2" y="169.6" font-size="17.6" fill="#9c27b0" text-anchor="start" font-weight="bold" >x</text><text x="854.9" y="164.4" font-size="13.4" fill="#1bb43c" font-weight="normal" textLength="73.2" lengthAdjust="spacing" >Apr 2023 H</text><text x="986.5" y="196.1" font-size="16.2" fill="#9c27b0" text-anchor="middle" font-weight="bold" >B</text><text x="936.8" y="343.0" font-size="16.2" fill="#9c27b0" text-anchor="middle" font-weight="bold" >A</text><text x="1036.7" y="283.5" font-size="16.2" fill="#9c27b0" text-anchor="middle" font-weight="bold" >C</text><text x="1104.7" y="72.6" font-size="16.2" fill="#9c27b0" text-anchor="middle" font-weight="bold" >D?</text><text x="791.8" y="323.5" font-size="17.3" fill="#ff0000" font-weight="normal" textLength="90.2" lengthAdjust="spacing" stroke="#ff0000" stroke-width="0.3">21-day EMA</text><text x="922.2" y="405.4" font-size="17.3" fill="#0000ff" font-weight="normal" textLength="103.1" lengthAdjust="spacing" stroke="#0000ff" stroke-width="0.3">200-day SMA</text><text x="1189.8" y="84.2" font-size="15.5" fill="#6aab5a" font-weight="normal" textLength="117.2" lengthAdjust="spacing" >161.80%(1.13800)</text><text x="1195.8" y="105.7" font-size="14.5" fill="#222" font-weight="normal" textLength="110.1" lengthAdjust="spacing" >61.80%(1.12748)</text><text x="1189.8" y="136.1" font-size="15.5" fill="#6aab5a" font-weight="normal" textLength="117.2" lengthAdjust="spacing" >127.20%(1.12207)</text><text x="1189.8" y="176.8" font-size="15.5" fill="#1bb43c" font-weight="normal" textLength="117.2" lengthAdjust="spacing" >100.00%(1.10955)</text><text x="1204.9" y="327.7" font-size="15.5" fill="#1bb43c" font-weight="normal" textLength="102.2" lengthAdjust="spacing" >0.00%(1.06351)</text><text x="1220.8" y="411.6" font-size="14.5" fill="#1bb43c" font-weight="normal" textLength="87.5" lengthAdjust="spacing" >Jan 2017 low</text><text x="1205.0" y="674.7" font-size="14.5" fill="#262626" font-weight="normal" textLength="101.8" lengthAdjust="spacing" >0.00%(0.95361)</text><text x="1170.8" y="699.8" font-size="15.1" fill="#1bb43c" font-weight="normal" textLength="137.6" lengthAdjust="spacing" >September 2022 low</text><text x="9.7" y="28.7" font-size="15" fill="#131722" font-weight="normal" textLength="69.3" lengthAdjust="spacing" ><tspan fill="#555">O</tspan>1.12260</text><text x="87.0" y="28.7" font-size="15" fill="#131722" font-weight="normal" textLength="68.1" lengthAdjust="spacing" ><tspan fill="#555">H</tspan>1.12450</text><text x="163.2" y="28.7" font-size="15" fill="#131722" font-weight="normal" textLength="66.0" lengthAdjust="spacing" ><tspan fill="#555">L</tspan>1.12043</text><text x="237.5" y="28.7" font-size="15" fill="#131722" font-weight="normal" textLength="67.9" lengthAdjust="spacing" ><tspan fill="#555">C</tspan>1.12324</text><text x="313.4" y="28.7" font-size="15" fill="#131722" font-weight="normal" textLength="64.4" lengthAdjust="spacing" >+0.00064</text><text x="384.0" y="28.7" font-size="15" fill="#131722" font-weight="normal" textLength="61.0" lengthAdjust="spacing" >(+0.06%)</text><rect x="11.5" y="39.5" width="38.8" height="23.8" rx="4" fill="rgba(255,255,255,0.8)" stroke="#d4d6dd" stroke-width="1"/><path d="M20 49 L24.6 53.3 L29.2 49" stroke="#131722" stroke-width="1.6" fill="none"/><text x="36" y="55.6" font-size="13.5" fill="#131722" text-anchor="start" font-weight="normal" >3</text><rect x="1316" y="3" width="1" height="744" fill="#5d5d5d" /><rect x="2" y="709" width="1400" height="1" fill="#5d5d5d" /><clipPath id="pax"><rect x="1316" y="3" width="86" height="706"/></clipPath><g clip-path="url(#pax)"><text x="1328.4" y="14.1" font-size="16.2" fill="#4d4d4d" font-weight="normal" textLength="61.3" lengthAdjust="spacing" >1.16000</text><text x="1328.4" y="79.5" font-size="16.2" fill="#4d4d4d" font-weight="normal" textLength="61.3" lengthAdjust="spacing" >1.14000</text><text x="1328.4" y="144.8" font-size="16.2" fill="#4d4d4d" font-weight="normal" textLength="61.3" lengthAdjust="spacing" >1.12000</text><text x="1328.4" y="275.5" font-size="16.2" fill="#4d4d4d" font-weight="normal" textLength="61.3" lengthAdjust="spacing" >1.08000</text><text x="1328.4" y="340.8" font-size="16.2" fill="#4d4d4d" font-weight="normal" textLength="61.3" lengthAdjust="spacing" >1.06000</text><text x="1328.4" y="406.1" font-size="16.2" fill="#4d4d4d" font-weight="normal" textLength="61.3" lengthAdjust="spacing" >1.04000</text><text x="1328.4" y="471.5" font-size="16.2" fill="#4d4d4d" font-weight="normal" textLength="61.3" lengthAdjust="spacing" >1.02000</text><text x="1328.4" y="602.1" font-size="16.2" fill="#4d4d4d" font-weight="normal" textLength="61.3" lengthAdjust="spacing" >0.98000</text><text x="1328.4" y="667.5" font-size="16.2" fill="#4d4d4d" font-weight="normal" textLength="61.3" lengthAdjust="spacing" >0.96000</text><path d="M1316 29H1396a2 2 0 0 1 2 2V51.5a2 2 0 0 1-2 2H1316Z" fill="#09b52d"/><text x="1329.1" y="47.4" font-size="16.8" fill="#fff" font-weight="normal" textLength="61.7" lengthAdjust="spacing" stroke="#fff" stroke-width="0.45">1.15000</text><path d="M1316 136.5H1396a2 2 0 0 1 2 2V159.0a2 2 0 0 1-2 2H1316Z" fill="#00bcd4"/><text x="1329.1" y="154.8" font-size="16.8" fill="#000" font-weight="normal" textLength="61.7" lengthAdjust="spacing" stroke="#000" stroke-width="0.15">1.11405</text><path d="M1316 161H1396a2 2 0 0 1 2 2V183.5a2 2 0 0 1-2 2H1316Z" fill="#09b52d"/><text x="1329.1" y="179.3" font-size="16.8" fill="#fff" font-weight="normal" textLength="61.7" lengthAdjust="spacing" stroke="#fff" stroke-width="0.45">1.10955</text><path d="M1316 192H1396a2 2 0 0 1 2 2V214.5a2 2 0 0 1-2 2H1316Z" fill="#09b52d"/><text x="1329.1" y="210.3" font-size="16.8" fill="#fff" font-weight="normal" textLength="61.7" lengthAdjust="spacing" stroke="#fff" stroke-width="0.45">1.10000</text><path d="M1316 225.3H1396a2 2 0 0 1 2 2V247.8a2 2 0 0 1-2 2H1316Z" fill="#2962ff"/><text x="1329.1" y="243.7" font-size="16.8" fill="#fff" font-weight="normal" textLength="61.7" lengthAdjust="spacing" stroke="#fff" stroke-width="0.45">1.09000</text><path d="M1316 311H1396a2 2 0 0 1 2 2V333.5a2 2 0 0 1-2 2H1316Z" fill="#000"/><text x="1329.1" y="329.4" font-size="16.8" fill="#fff" font-weight="normal" textLength="61.7" lengthAdjust="spacing" stroke="#fff" stroke-width="0.45">1.06351</text><path d="M1316 355.5H1396a2 2 0 0 1 2 2V378.0a2 2 0 0 1-2 2H1316Z" fill="#09b52d"/><text x="1329.1" y="373.9" font-size="16.8" fill="#fff" font-weight="normal" textLength="61.7" lengthAdjust="spacing" stroke="#fff" stroke-width="0.45">1.05000</text><path d="M1316 407.8H1396a2 2 0 0 1 2 2V430.3a2 2 0 0 1-2 2H1316Z" fill="#09b52d"/><text x="1329.1" y="426.2" font-size="16.8" fill="#fff" font-weight="normal" textLength="61.7" lengthAdjust="spacing" stroke="#fff" stroke-width="0.45">1.03403</text><path d="M1316 519H1396a2 2 0 0 1 2 2V541.5a2 2 0 0 1-2 2H1316Z" fill="#09b52d"/><text x="1329.1" y="537.4" font-size="16.8" fill="#fff" font-weight="normal" textLength="61.7" lengthAdjust="spacing" stroke="#fff" stroke-width="0.45">1.00000</text><path d="M1316 671.5H1396a2 2 0 0 1 2 2V694.0a2 2 0 0 1-2 2H1316Z" fill="#000"/><text x="1329.1" y="689.9" font-size="16.8" fill="#fff" font-weight="normal" textLength="61.7" lengthAdjust="spacing" stroke="#fff" stroke-width="0.45">0.95361</text></g><clipPath id="bc"><rect x="1316" y="690" width="90" height="19"/></clipPath><g clip-path="url(#bc)"><path d="M1316 694H1396a2 2 0 0 1 2 2V716.5a2 2 0 0 1-2 2H1316Z" fill="#09b52d"/><text x="1329.1" y="712.4" font-size="16.8" fill="#fff" font-weight="normal" textLength="61.7" lengthAdjust="spacing" stroke="#fff" stroke-width="0.45">0.95361</text></g><clipPath id="tax"><rect x="2" y="710" width="1314" height="37"/></clipPath><g clip-path="url(#tax)"><text x="12.5" y="734.9" font-size="16.3" fill="#4d4d4d" text-anchor="middle" font-weight="normal" >Jun</text><text x="164.8" y="734.9" font-size="16.3" fill="#4d4d4d" text-anchor="middle" font-weight="normal" >Aug</text><text x="325.2" y="734.9" font-size="16.3" fill="#4d4d4d" text-anchor="middle" font-weight="normal" >Oct</text><text x="439.9" y="734.9" font-size="16.3" fill="#4d4d4d" text-anchor="middle" font-weight="normal" >16</text><text x="557.4" y="734.9" font-size="16.3" fill="#4d4d4d" text-anchor="middle" font-weight="bold" >2023</text><text x="707.5" y="734.9" font-size="16.3" fill="#4d4d4d" text-anchor="middle" font-weight="normal" >Mar</text><text x="860.4" y="734.9" font-size="16.3" fill="#4d4d4d" text-anchor="middle" font-weight="normal" >May</text><text x="1020.9" y="734.9" font-size="16.3" fill="#4d4d4d" text-anchor="middle" font-weight="normal" >Jul</text><text x="1178.5" y="734.9" font-size="16.3" fill="#4d4d4d" text-anchor="middle" font-weight="normal" >Sep</text></g><path d="M1352.5 729.4 L1356.8 722.1 H1365.2 L1369.4 729.4 L1365.2 736.6 H1356.8 Z" stroke="#131722" stroke-width="1.2" fill="none" stroke-linejoin="round"/><circle cx="1361" cy="729.4" r="2.5" stroke="#131722" stroke-width="1.2" fill="none"/></svg>
</body></html>
